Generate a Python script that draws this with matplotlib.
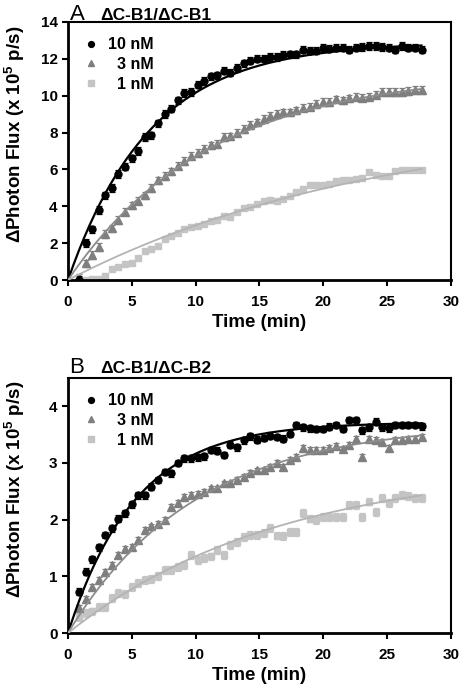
import matplotlib
matplotlib.use("Agg")
import numpy as np
import matplotlib.pyplot as plt
from matplotlib.lines import Line2D

plt.rcParams['font.family'] = ['Liberation Sans', 'DejaVu Sans']
plt.rcParams['mathtext.fontset'] = 'custom'
plt.rcParams['mathtext.bf'] = 'Liberation Sans:bold'
plt.rcParams['mathtext.rm'] = 'Liberation Sans'

# time points (min)
t = [0.85, 1.37, 1.88, 2.40, 2.92, 3.43, 3.95, 4.47, 4.98, 5.50,
     6.02, 6.53, 7.05, 7.57, 8.08, 8.60, 9.12, 9.63, 10.15, 10.67,
     11.18, 11.70, 12.22, 12.73, 13.25, 13.77, 14.28, 14.80, 15.32, 15.83,
     16.35, 16.87, 17.38, 17.90, 18.42, 18.93, 19.45, 19.97, 20.48, 21.00,
     21.52, 22.03, 22.55, 23.07, 23.58, 24.10, 24.62, 25.13, 25.65, 26.17,
     26.68, 27.20, 27.72]

# panel A: dC-B1/dC-B1
a10 = [0.0, 2.0, 2.75, 3.8, 4.6, 5.0, 5.75, 6.15, 6.6, 7.0,
       7.75, 7.85, 8.5, 9.0, 9.3, 9.75, 10.15, 10.2, 10.6, 10.8,
       11.05, 11.1, 11.35, 11.25, 11.5, 11.75, 11.9, 12.0, 12.0, 12.1,
       12.1, 12.2, 12.25, 12.25, 12.5, 12.45, 12.45, 12.6, 12.55, 12.6,
       12.6, 12.5, 12.6, 12.65, 12.7, 12.7, 12.65, 12.6, 12.5, 12.7,
       12.6, 12.6, 12.5]
a3 = [0.1, 0.9, 1.35, 1.8, 2.5, 2.8, 3.25, 3.7, 4.05, 4.3,
      4.6, 5.0, 5.4, 5.65, 5.9, 6.2, 6.45, 6.75, 6.9, 7.1,
      7.3, 7.4, 7.75, 7.8, 8.0, 8.2, 8.4, 8.55, 8.75, 8.9,
      9.0, 9.1, 9.1, 9.2, 9.35, 9.4, 9.55, 9.65, 9.65, 9.8,
      9.75, 9.85, 9.95, 9.9, 9.95, 10.05, 10.2, 10.2, 10.2, 10.2,
      10.25, 10.3, 10.3]
a1 = [0.0, 0.02, 0.03, 0.05, 0.2, 0.6, 0.72, 0.85, 0.93, 1.2,
      1.55, 1.7, 1.85, 2.25, 2.4, 2.55, 2.75, 2.88, 2.95, 3.05,
      3.2, 3.25, 3.45, 3.4, 3.7, 3.9, 3.98, 4.15, 4.28, 4.33,
      4.3, 4.4, 4.55, 4.75, 4.95, 5.15, 5.15, 5.15, 5.2, 5.35,
      5.4, 5.4, 5.5, 5.55, 5.85, 5.7, 5.65, 5.65, 5.9, 5.95,
      5.97, 5.97, 5.97]
a_err = {'10 nM': 0.2, '3 nM': 0.2, '1 nM': 0.1}
# single-exponential fit parameters (plateau, rate)
a_fit = {'10 nM': (12.9, 0.155), '3 nM': (11.3, 0.09), '1 nM': (9.0, 0.04)}

# panel B: dC-B1/dC-B2
b10 = [0.73, 1.08, 1.3, 1.51, 1.73, 1.85, 2.02, 2.11, 2.27, 2.43,
       2.43, 2.58, 2.7, 2.84, 2.82, 3.0, 3.08, 3.08, 3.1, 3.12,
       3.23, 3.22, 3.14, 3.32, 3.28, 3.4, 3.47, 3.41, 3.44, 3.48,
       3.46, 3.43, 3.52, 3.67, 3.63, 3.61, 3.6, 3.6, 3.64, 3.67,
       3.6, 3.76, 3.76, 3.58, 3.63, 3.73, 3.63, 3.61, 3.67, 3.67,
       3.67, 3.67, 3.65]
b3 = [0.45, 0.6, 0.82, 0.93, 1.08, 1.2, 1.38, 1.49, 1.52, 1.64,
      1.82, 1.88, 1.93, 1.99, 2.23, 2.29, 2.4, 2.43, 2.46, 2.49,
      2.55, 2.55, 2.64, 2.64, 2.7, 2.76, 2.82, 2.87, 2.87, 2.93,
      3.0, 2.93, 3.05, 3.1, 3.27, 3.23, 3.23, 3.23, 3.26, 3.3,
      3.24, 3.32, 3.42, 3.1, 3.43, 3.4, 3.37, 3.26, 3.4, 3.4,
      3.43, 3.43, 3.46]
b1 = [0.29, 0.35, 0.38, 0.46, 0.46, 0.61, 0.7, 0.69, 0.82, 0.88,
      0.93, 0.96, 1.0, 1.12, 1.11, 1.17, 1.2, 1.38, 1.29, 1.33,
      1.35, 1.46, 1.38, 1.55, 1.61, 1.7, 1.73, 1.73, 1.76, 1.85,
      1.72, 1.71, 1.79, 1.79, 2.11, 2.02, 2.0, 2.05, 2.05, 2.05,
      2.05, 2.26, 2.26, 2.05, 2.32, 2.14, 2.38, 2.29, 2.38, 2.43,
      2.41, 2.38, 2.38]
b_err = {'10 nM': 0.06, '3 nM': 0.05, '1 nM': 0.07}
b_fit = {'10 nM': (3.72, 0.19), '3 nM': (3.72, 0.1), '1 nM': (3.0, 0.06)}

labels = ['10 nM', '3 nM', '1 nM']
leg_text = ['10 nM', '  3 nM', '  1 nM']
colors = ['black', '#7f7f7f', '#c4c4c4']
line_colors = ['black', '#8c8c8c', '#b4b4b4']
markers = ['o', '^', 's']
msizes = [5, 5.5, 5]

fig = plt.figure(figsize=(4.64, 6.9), dpi=100)
axA = fig.add_axes([0.1466, 0.5942, 0.825, 0.374])
axB = fig.add_axes([0.1466, 0.0826, 0.825, 0.3696])


def draw(ax, series, errs, fits, ymax, yticks, letter, title, title_y):
    tt = np.linspace(0, 27.7, 200)
    for i, lab in enumerate(labels):
        ax.errorbar(t, series[i], yerr=errs[lab], fmt=markers[i], color=colors[i],
                    ms=msizes[i], mec=colors[i], ecolor=colors[i], elinewidth=0.9,
                    capsize=2.2, capthick=0.9, zorder=2 + (2 - i))
        A, k = fits[lab]
        ax.plot(tt, A * (1 - np.exp(-k * tt)), color=line_colors[i],
                lw=1.6 if i == 0 else 1.3, zorder=6)
    ax.set_xlim(0, 30)
    ax.set_ylim(0, ymax)
    ax.set_xticks([0, 5, 10, 15, 20, 25, 30])
    ax.set_yticks(yticks)
    ax.tick_params(direction='out', length=4.5, width=1.5, labelsize=11)
    ax.tick_params(axis='x', pad=6)
    ax.tick_params(axis='y', pad=3)
    for lbl in ax.get_xticklabels() + ax.get_yticklabels():
        lbl.set_fontweight('bold')
    for s in ['left', 'bottom']:
        ax.spines[s].set_linewidth(2)
    for s in ['right', 'top']:
        ax.spines[s].set_linewidth(1.5)
    ax.set_xlabel('Time (min)', fontsize=13.5, fontweight='bold', labelpad=4)
    ax.set_ylabel('\u0394Photon Flux (x 10$^{\\mathbf{5}}$ p/s)', fontsize=13.5,
                  fontweight='bold')
    ax.yaxis.set_label_coords(-0.106, 0.565)
    handles = [Line2D([], [], ls='none', marker=markers[i], color=colors[i],
                      ms=msizes[i] - 0.8) for i in range(3)]
    ax.legend(handles, leg_text, loc='upper left', frameon=False,
              prop={'weight': 'bold', 'size': 11.5}, handletextpad=0.55,
              handlelength=1.0, labelspacing=0.3, borderaxespad=0.55,
              borderpad=0.4)
    fig.text(0.150, title_y, letter, fontsize=16, ha='left', va='baseline')
    fig.text(0.215, title_y, title, fontsize=12.5, fontweight='bold',
             ha='left', va='baseline')


draw(axA, [a10, a3, a1], a_err, a_fit, 14, [0, 2, 4, 6, 8, 10, 12, 14],
     'A', '\u0394C-B1/\u0394C-B1', 0.971)
draw(axB, [b10, b3, b1], b_err, b_fit, 4.5, [0, 1, 2, 3, 4],
     'B', '\u0394C-B1/\u0394C-B2', 0.460)

fig.savefig('out.png', dpi=100)
